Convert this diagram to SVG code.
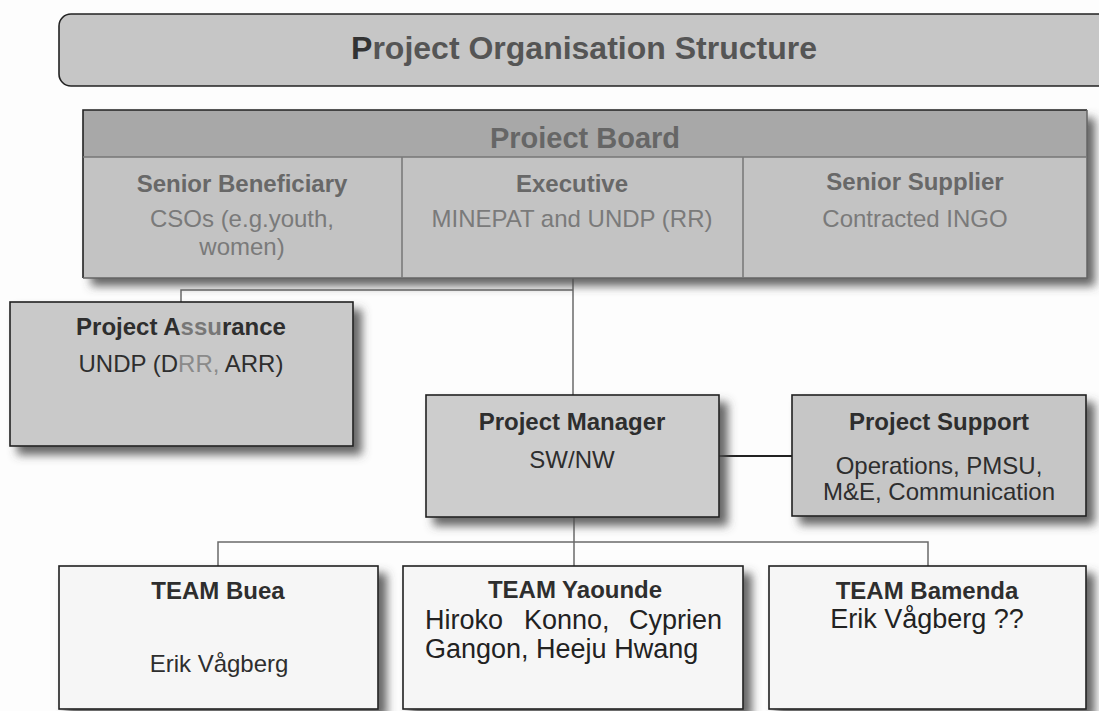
<svg xmlns="http://www.w3.org/2000/svg" width="1099" height="711" viewBox="0 0 1099 711">
<defs>
<filter id="sh" x="-10%" y="-10%" width="130%" height="140%">
<feGaussianBlur in="SourceAlpha" stdDeviation="5"/>
<feOffset dx="8" dy="8" result="b"/>
<feFlood flood-color="#4a4a4a" flood-opacity="0.85"/>
<feComposite in2="b" operator="in"/>
<feMerge><feMergeNode/><feMergeNode in="SourceGraphic"/></feMerge>
</filter>
<style>
text{font-family:"Liberation Sans",Arial,sans-serif;text-anchor:middle}
.b{font-weight:bold}
.box{stroke:#222;stroke-width:1.6}
.grey{fill:#c9c9c9}
.team{fill:#f6f6f6}
.bt{fill:#686868;font-size:24px}
.br{fill:#7a7a7a;font-size:24px}
.dk{fill:#2e2e2e;font-size:24px}
.con{stroke:#6a6a6a;stroke-width:1.5;fill:none}
</style>
</defs>
<rect width="1099" height="711" fill="#fdfdfd"/>

<g id="title">
<rect x="59" y="14" width="1060" height="72" rx="12" fill="#c6c6c6" stroke="#222" stroke-width="1.6"/>
<text x="584" y="59" class="b" font-size="32" fill="#555"><tspan fill="#333">P</tspan>roject Organisation Structure</text>
</g>

<g id="connectors">
<path class="con" d="M573 278V395"/>
<path class="con" d="M181 302V290H573"/>
<path d="M719 456H792" stroke="#222" stroke-width="2" fill="none"/>
<path class="con" d="M574 517V566"/>
<path class="con" d="M218 566V542H928V566"/>
</g>

<g id="board">
<g filter="url(#sh)">
<rect x="83" y="110" width="1004" height="168" fill="#c3c3c3"/>
<rect x="83" y="110" width="1004" height="47" fill="#a8a8a8"/>
</g>
<path d="M83 278V110H1087" stroke="#222" stroke-width="1.6" fill="none"/>
<path d="M1087 110V278H83" stroke="#666" stroke-width="1.5" fill="none"/>
<text x="585" y="148" class="b" font-size="29" fill="#666">Proiect Board</text>
<path d="M83 157H1087M402 157V278M743 157V278" stroke="#777" stroke-width="1.5" fill="none"/>
<text x="242" y="192" class="b bt">Senior Beneficiary</text>
<text x="242" y="227" class="br">CSOs (e.g.youth,</text>
<text x="242" y="255" class="br">women)</text>
<text x="572" y="192" class="b bt">Executive</text>
<text x="572" y="227" class="br">MINEPAT and UNDP (RR)</text>
<text x="915" y="190" class="b bt">Senior Supplier</text>
<text x="915" y="227" class="br">Contracted INGO</text>
</g>

<g id="assurance">
<rect x="10" y="302" width="343" height="144" class="box grey" filter="url(#sh)"/>
<text x="181" y="335" class="b dk">Project A<tspan fill="#777">ssu</tspan>rance</text>
<text x="181" y="372" class="dk">UNDP (D<tspan fill="#8a8a8a">RR,</tspan> ARR)</text>
</g>

<g id="manager">
<rect x="426" y="395" width="293" height="122" class="box" fill="#cdcdcd" filter="url(#sh)"/>
<text x="572" y="430" class="b dk" fill="#3a3a3a">Project Manager</text>
<text x="572" y="468" class="dk">SW/NW</text>
</g>

<g id="support">
<rect x="792" y="395" width="294" height="121" class="box" fill="#c6c6c6" filter="url(#sh)"/>
<text x="939" y="430" class="b dk">Project Support</text>
<text x="939" y="474" class="dk">Operations, PMSU,</text>
<text x="939" y="500" class="dk">M&amp;E, Communication</text>
</g>

<g id="buea">
<rect x="59" y="566" width="319" height="143" class="box team" filter="url(#sh)"/>
<text x="218" y="599" class="b dk">TEAM Buea</text>
<text x="219" y="672" class="dk">Erik Vågberg</text>
</g>

<g id="yaounde">
<rect x="403" y="566" width="340" height="143" class="box team" filter="url(#sh)"/>
<text x="575" y="598" class="b dk">TEAM Yaounde</text>
<text y="629" font-size="27" fill="#222"><tspan x="425" style="text-anchor:start">Hiroko</tspan><tspan x="524" style="text-anchor:start">Konno,</tspan><tspan x="722" style="text-anchor:end">Cyprien</tspan></text>
<text x="425" y="658" font-size="27" fill="#222" style="text-anchor:start">Gangon, Heeju Hwang</text>
</g>

<g id="bamenda">
<rect x="769" y="566" width="317" height="143" class="box team" filter="url(#sh)"/>
<text x="927" y="599" class="b dk">TEAM Bamenda</text>
<text x="927" y="628" font-size="27" fill="#222">Erik Vågberg ??</text>
</g>
</svg>
